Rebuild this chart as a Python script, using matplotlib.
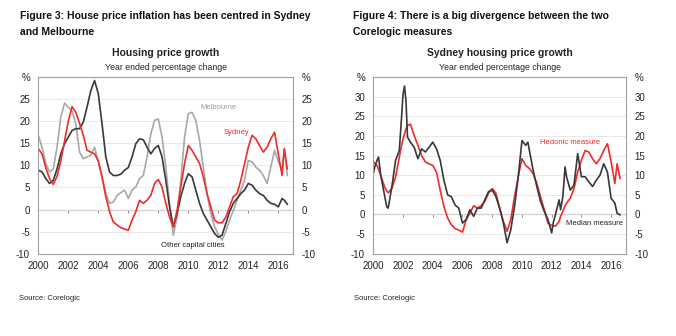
import matplotlib.pyplot as plt

plt.rcParams['font.family'] = ['Liberation Sans', 'DejaVu Sans']

# Figure 3: annual house price growth by city, %
t_left = [2000.0, 2000.25, 2000.5, 2000.75, 2001.0, 2001.25, 2001.5, 2001.75,
          2002.0, 2002.25, 2002.5, 2002.75, 2003.0, 2003.25, 2003.5, 2003.75,
          2004.0, 2004.25, 2004.5, 2004.75, 2005.0, 2005.25, 2005.5, 2005.75,
          2006.0, 2006.25, 2006.5, 2006.75, 2007.0, 2007.25, 2007.5, 2007.75,
          2008.0, 2008.25, 2008.5, 2008.75, 2009.0, 2009.25, 2009.5, 2009.75,
          2010.0, 2010.25, 2010.5, 2010.75, 2011.0, 2011.25, 2011.5, 2011.75,
          2012.0, 2012.25, 2012.5, 2012.75, 2013.0, 2013.25, 2013.5, 2013.75,
          2014.0, 2014.25, 2014.5, 2014.75, 2015.0, 2015.25, 2015.5, 2015.75,
          2016.0, 2016.25, 2016.4, 2016.6]
sydney = [13.8, 12.6, 9.5, 7.0, 5.7, 7.5, 11.0, 15.5,
          20.0, 23.3, 22.0, 19.5, 16.8, 13.4, 13.0, 12.6,
          11.0, 7.4, 2.9, -0.5, -2.8, -3.5, -4.1, -4.4,
          -4.7, -2.4, -0.5, 2.1, 1.4, 2.1, 3.2, 5.9,
          6.8, 5.1, 1.4, -1.7, -3.9, -0.2, 5.1, 10.4,
          14.5, 13.4, 11.9, 10.4, 7.4, 3.6, 0.6, -2.4,
          -3.0, -3.0, -1.7, 0.6, 2.9, 3.6, 6.6, 10.4,
          14.1, 16.8, 16.0, 14.5, 13.0, 14.1, 16.0, 17.5,
          12.6, 7.7, 13.8, 9.2]
melbourne = [16.8, 14.1, 10.4, 8.5, 9.2, 14.1, 20.9, 24.1,
             23.2, 22.3, 19.4, 13.0, 11.5, 11.9, 12.3, 14.1,
             10.8, 7.4, 3.6, 1.4, 1.7, 3.2, 3.8, 4.4,
             2.5, 4.4, 5.1, 7.0, 7.7, 11.9, 17.1, 20.2,
             20.5, 16.4, 9.6, 1.4, -5.8, -1.7, 6.6, 16.4,
             21.7, 22.0, 20.2, 15.6, 9.6, 3.6, -0.9, -3.9,
             -5.6, -6.9, -5.0, -2.4, -0.2, 2.1, 4.4, 6.6,
             11.1, 10.8, 9.6, 8.9, 7.7, 5.9, 9.6, 13.4,
             10.8, 8.9, 13.8, 7.7]
other_caps = [8.9, 8.5, 7.0, 5.9, 6.6, 9.2, 12.6, 14.9,
              16.4, 17.9, 18.3, 18.3, 19.8, 23.2, 26.9, 29.2,
              26.2, 19.4, 11.9, 8.5, 7.7, 7.7, 8.0, 8.9,
              9.5, 11.9, 14.9, 16.0, 15.8, 14.1, 12.6, 13.8,
              14.5, 11.9, 6.6, 0.6, -3.9, -0.9, 2.9, 5.9,
              8.1, 7.4, 4.4, 1.4, -0.9, -2.4, -3.9, -5.4,
              -6.3, -5.8, -3.2, -0.5, 1.4, 2.5, 3.6, 4.4,
              5.9, 5.5, 4.4, 3.6, 3.2, 2.1, 1.4, 1.2,
              0.6, 2.5, 2.1, 1.2]

# Figure 4: Sydney, hedonic vs median measure, %
t_right = [2000.0, 2000.1, 2000.25, 2000.35, 2000.5, 2000.75, 2000.9, 2001.0,
           2001.25, 2001.5, 2001.75, 2001.9, 2002.0, 2002.1, 2002.2, 2002.3,
           2002.5, 2002.75, 2003.0, 2003.25, 2003.5, 2003.75, 2004.0, 2004.25,
           2004.5, 2004.75, 2005.0, 2005.25, 2005.5, 2005.75, 2006.0, 2006.25,
           2006.5, 2006.75, 2007.0, 2007.25, 2007.5, 2007.75, 2008.0, 2008.25,
           2008.5, 2008.75, 2009.0, 2009.25, 2009.5, 2009.75, 2010.0, 2010.25,
           2010.4, 2010.5, 2010.75, 2011.0, 2011.25, 2011.5, 2011.75, 2012.0,
           2012.1, 2012.25, 2012.5, 2012.6, 2012.75, 2012.9, 2013.0, 2013.25,
           2013.5, 2013.75, 2014.0, 2014.25, 2014.5, 2014.75, 2015.0, 2015.25,
           2015.5, 2015.75, 2016.0, 2016.25, 2016.4, 2016.6]
hedonic = [13.4, 13.0, 12.5, 11.5, 10.0, 7.1, 6.0, 5.5,
           6.6, 9.6, 14.6, 17.5, 19.2, 20.5, 21.8, 22.6,
           23.0, 20.1, 17.6, 15.0, 13.4, 12.9, 12.5, 10.8,
           6.2, 2.0, -0.9, -2.6, -3.6, -4.0, -4.5, -1.3,
           0.3, 2.2, 1.6, 2.2, 3.3, 5.4, 6.6, 5.4,
           1.6, -1.8, -4.3, -1.3, 4.5, 9.6, 14.2, 12.5,
           12.0, 11.7, 10.4, 7.9, 4.5, 1.2, -2.2, -2.8,
           -2.9, -3.0, -1.8, -0.5, 0.8, 2.2, 2.9, 4.1,
           6.6, 10.8, 13.8, 16.3, 15.9, 14.2, 12.9, 14.2,
           16.3, 18.0, 13.4, 7.9, 12.9, 9.2]
median = [10.4, 12.1, 13.8, 14.6, 10.0, 5.0, 2.0, 1.6,
          7.1, 13.8, 16.3, 24.7, 30.6, 32.7, 28.9, 19.7,
          18.4, 17.1, 14.2, 16.7, 15.9, 17.1, 18.4, 16.7,
          13.8, 8.7, 5.0, 4.5, 2.4, 1.6, -2.2, -1.3,
          1.2, -0.5, 1.6, 1.6, 3.7, 5.8, 6.2, 4.5,
          1.6, -2.2, -7.2, -3.9, 2.0, 9.6, 18.8, 17.6,
          18.4, 16.3, 11.3, 7.1, 3.3, 0.8, -1.3, -4.7,
          -2.2, -0.1, 3.7, 1.2, 4.5, 12.1, 9.6, 6.2,
          7.5, 15.5, 9.6, 9.6, 8.3, 7.1, 8.7, 10.0,
          12.9, 10.8, 4.1, 2.9, 0.3, -0.1]

RED = '#ef2b2d'
LIGHT = '#a8a8a8'
DARK = '#383838'
W, H = 676, 336

fig = plt.figure(figsize=(W / 100, H / 100), dpi=100)


def px(x, y):
    return x / W, 1 - y / H


def setup(ax, ymax, title, sub):
    ax.set_xlim(2000, 2017)
    ax.set_ylim(-10, ymax)
    yt = list(range(-10, ymax + 1, 5))
    ylab = [str(v) for v in yt[:-1]] + ['%']
    ax.set_yticks(yt)
    ax.set_yticklabels(ylab)
    ax.tick_params(axis='y', length=0, labelsize=7, pad=6, labelright=True,
                   right=False, colors='#222222')
    ax.set_xticks(range(2000, 2017, 2))
    ax.tick_params(axis='x', length=0, labelsize=7, pad=5, colors='#222222')
    ax.grid(axis='y', color='#e4e4e4', lw=0.6)
    ax.set_axisbelow(True)
    for s in ax.spines.values():
        s.set_color('#a0a0a0')
        s.set_linewidth(0.8)
    # zero line with year ticks
    zero = ax.secondary_xaxis((0 - (-10)) / (ymax + 10))
    zero.set_xticks(range(2002, 2017, 2))
    zero.tick_params(length=2, width=0.6, colors='#777777', labelbottom=False)
    zero.spines['bottom'].set_color('#777777')
    zero.spines['bottom'].set_linewidth(0.8)
    cx = (ax.get_position().x0 + ax.get_position().x1) / 2
    fig.text(cx, 1 - 53 / H, title, ha='center', va='center',
             fontsize=7.5, fontweight='bold', color='#222222')
    fig.text(cx, 1 - 67 / H, sub, ha='center', va='center',
             fontsize=6.3, color='#222222')


axL = fig.add_axes([38.3 / W, 1 - 253.7 / H, 255 / W, 176.7 / H])
setup(axL, 30, 'Housing price growth', 'Year ended percentage change')
axL.plot(t_left, melbourne, color=LIGHT, lw=1.2)
axL.plot(t_left, other_caps, color=DARK, lw=1.2)
axL.plot(t_left, sydney, color=RED, lw=1.2)
axL.text(2012.0, 23.0, 'Melbourne', color='#9a9a9a', fontsize=5.5,
         ha='center', va='center')
axL.text(2013.2, 17.5, 'Sydney', color=RED, fontsize=5.5,
         ha='center', va='center')
axL.text(2010.3, -8.2, 'Other capital cities', color='#222222', fontsize=5.5,
         ha='center', va='center')

axR = fig.add_axes([373.3 / W, 1 - 253.7 / H, 252.7 / W, 176.7 / H])
setup(axR, 35, 'Sydney housing price growth', 'Year ended percentage change')
axR.plot(t_right, hedonic, color=RED, lw=1.2)
axR.plot(t_right, median, color=DARK, lw=1.2)
axR.text(2013.25, 18.4, 'Hedonic measure', color=RED, fontsize=5.5,
         ha='center', va='center')
axR.text(2014.9, -2.4, 'Median measure', color='#222222', fontsize=5.5,
         ha='center', va='center')

head = dict(fontsize=7.5, fontweight='bold', color='#111111', va='center')
fig.text(*px(20, 16), 'Figure 3: House price inflation has been centred in Sydney', **head)
fig.text(*px(20, 32), 'and Melbourne', **head)
fig.text(*px(353, 16), 'Figure 4: There is a big divergence between the two', **head)
fig.text(*px(353, 32), 'Corelogic measures', **head)

fig.text(*px(19, 298), 'Source: Corelogic', fontsize=5.5, color='#222222', va='center')
fig.text(*px(354, 298), 'Source: Corelogic', fontsize=5.5, color='#222222', va='center')

fig.savefig('out.png', dpi=100)
